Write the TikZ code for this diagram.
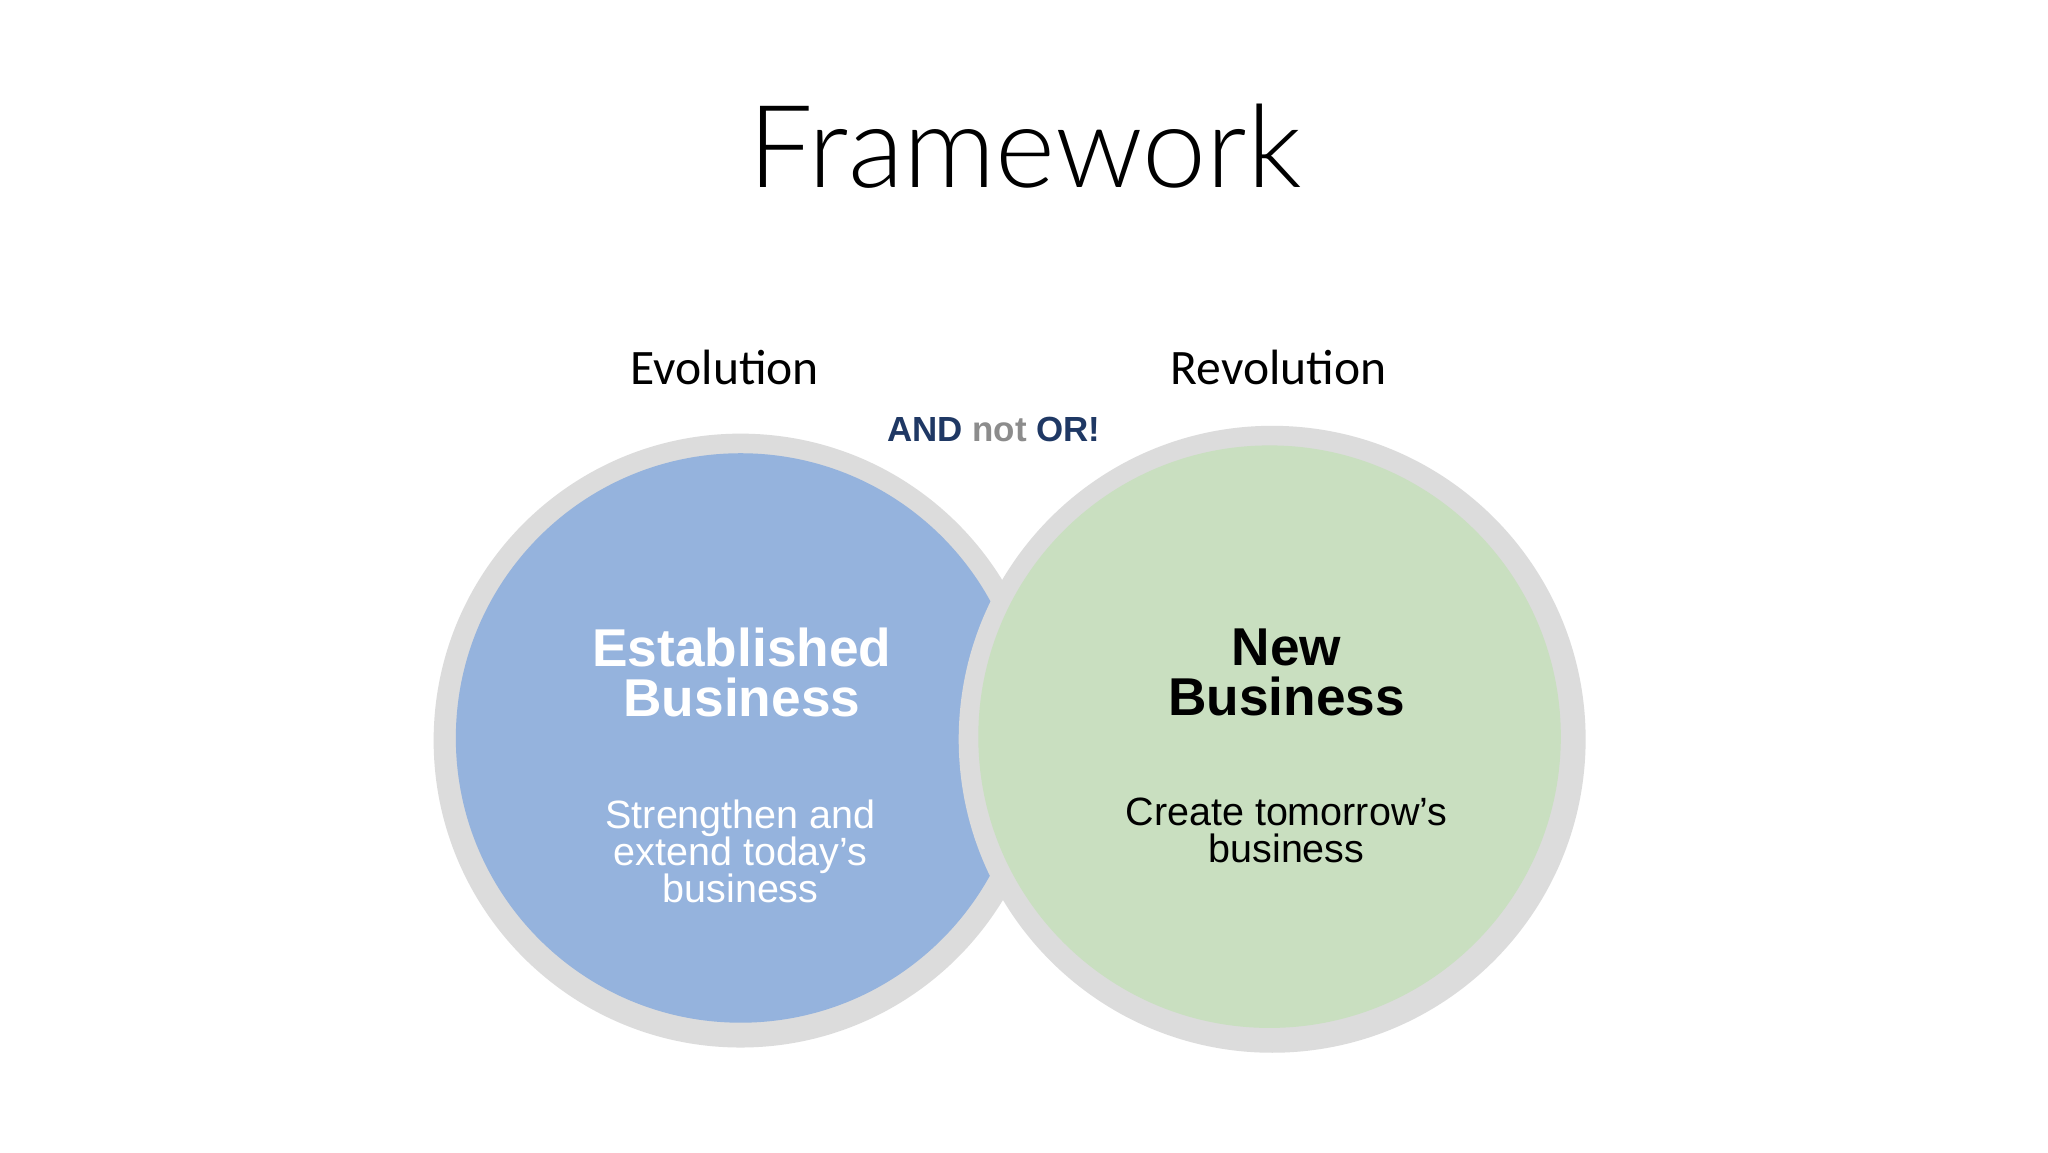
\documentclass[tikz,border=0pt]{standalone}
\usepackage{fontspec}
\setmainfont{Liberation Sans}
\newfontfamily\carl{Carlito}
\newfontfamily\titlef{Lato Light}
\definecolor{ringgray}{HTML}{DCDCDC}
\definecolor{blueb}{HTML}{95B3DD}
\definecolor{greenb}{HTML}{C9DFC0}
\definecolor{navy}{HTML}{1F3864}
\definecolor{notgray}{HTML}{8C8C8C}
\begin{document}
\begin{tikzpicture}[x=0.05cm,y=-0.05cm,
  hd/.style={font=\fontsize{58}{60}\selectfont\bfseries, align=center},
  bd/.style={font=\fontsize{43}{48}\selectfont, align=center},
  lab/.style={font=\carl\fontsize{54}{56}\selectfont}]
\useasboundingbox (0,0) rectangle (1568,882);
\fill[white] (0,0) rectangle (1568,882);
\node[font=\titlef\fontsize{125}{130}\selectfont] (title) at (785,112) {Framework};
\node[lab] (evo) at (555,281) {Evolution};
\node[lab] (rev) at (979,281) {Revolution};
\node[font=\fontsize{38}{40}\selectfont\bfseries] (and) at (761,329) {\textcolor{navy}{AND} \textcolor{notgray}{not} \textcolor{navy}{OR!}};
\fill[ringgray] (567,567) circle (235);
\fill[blueb] (567,565) circle (218);
\fill[ringgray] (974,566) circle (240);
\fill[greenb] (972,564) circle (223);
\node[hd, text=white] (eb) at (568,515) {Established\\[-6pt]Business};
\node[bd, text=white] (ebt) at (567,652) {Strengthen and\\[-8pt]extend today’s\\[-8pt]business};
\node[hd, text=black] (nb) at (985,515) {New\\[-6pt]Business};
\node[bd, text=black] (nbt) at (985,636) {Create tomorrow’s\\[-8pt]business};
\end{tikzpicture}
\end{document}
